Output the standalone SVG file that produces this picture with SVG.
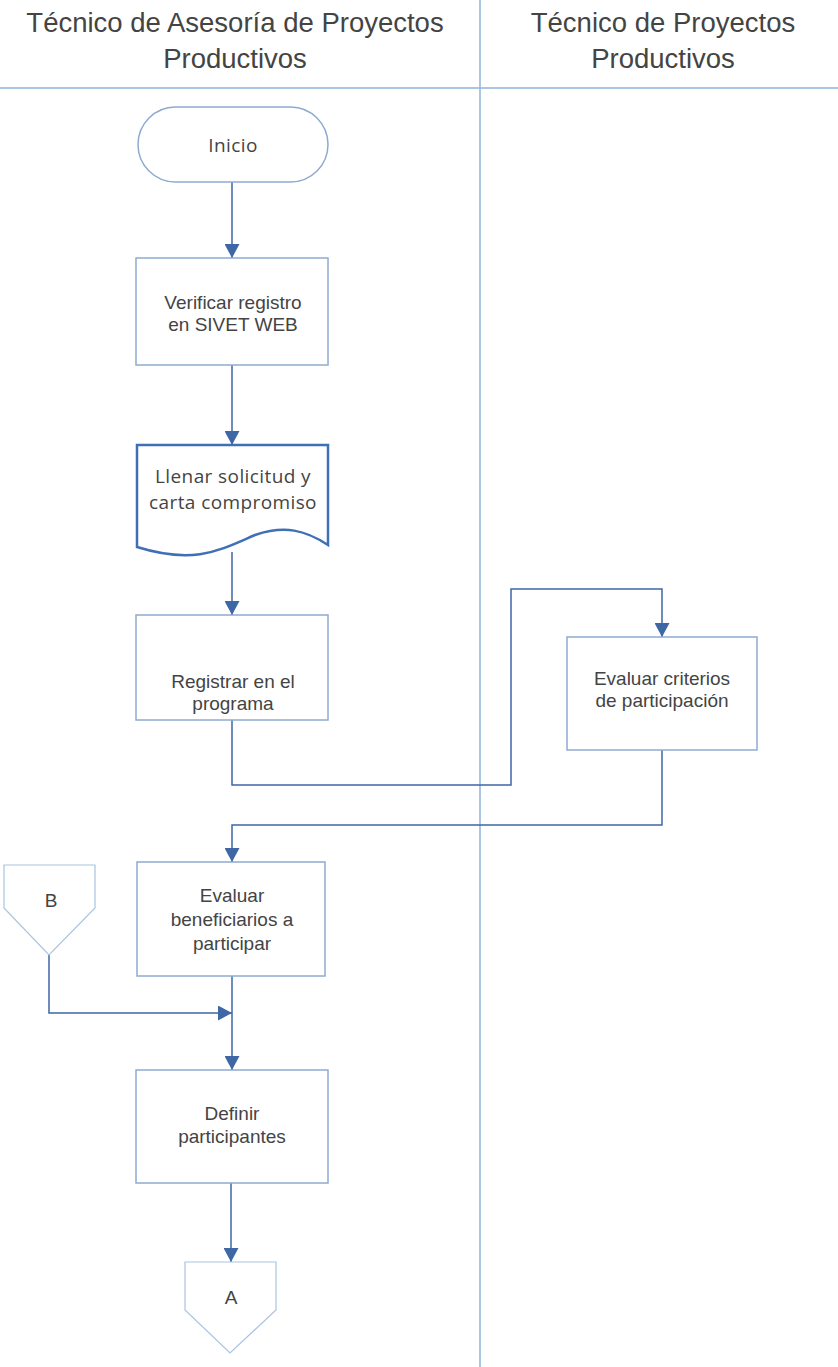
<svg xmlns="http://www.w3.org/2000/svg" width="838" height="1367" viewBox="0 0 838 1367">
  <style>
    .lane { stroke: #8fb3d8; stroke-width: 1.5; fill: none; }
    .hdr { font-family: "Liberation Sans", Arial, sans-serif; font-size: 27.5px; fill: #444; text-anchor: middle; }
    .box { fill: #fff; stroke: #8eabcf; stroke-width: 1.5; }
    .doc { fill: #fff; stroke: #3f6fb5; stroke-width: 2.5; }
    .off { fill: #fff; stroke: #a9c3e0; stroke-width: 1.2; }
    .lbl { font-family: "Liberation Sans", Arial, sans-serif; font-size: 19px; fill: #444; text-anchor: middle; }
    .lbl2 { font-family: "Open Sans", "Noto Sans", sans-serif; font-size: 19px; letter-spacing: 0.4px; fill: #444; text-anchor: middle; }
    .conn { stroke: #3e67a6; stroke-width: 1.5; fill: none; marker-end: url(#arr); }
  </style>
  <defs>
    <marker id="arr" viewBox="0 0 14 15" refX="14" refY="7.5" markerWidth="14" markerHeight="15" markerUnits="userSpaceOnUse" orient="auto">
      <path d="M0,0 L14,7.5 L0,15 Z" fill="#3e67a6"/>
    </marker>
  </defs>
  <rect width="838" height="1367" fill="#fff"/>

  <!-- swimlane frame -->
  <g id="lanes">
    <line class="lane" x1="480" y1="0" x2="480" y2="1367"/>
    <line class="lane" x1="0" y1="88" x2="838" y2="88" stroke-width="2"/>
    <text class="hdr" x="235" y="32">Técnico de Asesoría de Proyectos</text>
    <text class="hdr" x="235" y="68">Productivos</text>
    <text class="hdr" x="663" y="32">Técnico de Proyectos</text>
    <text class="hdr" x="663" y="68">Productivos</text>
  </g>

  <!-- connectors -->
  <g id="connectors">
    <path class="conn" d="M232,182 V258"/>
    <path class="conn" d="M232,365 V445"/>
    <path class="conn" d="M232,552 V615"/>
    <path class="conn" d="M232,720 V785 H511 V589 H662 V637"/>
    <path class="conn" d="M662,750 V825 H232 V862"/>
    <path class="conn" d="M232,976 V1070"/>
    <path class="conn" d="M49,955 V1013 H232"/>
    <path class="conn" d="M231,1183 V1262"/>
  </g>

  <g id="inicio">
    <rect class="box" x="138" y="107" width="190" height="75" rx="37.5"/>
    <text class="lbl2" x="233" y="152">Inicio</text>
  </g>

  <g id="verificar">
    <rect class="box" x="136" y="258" width="192" height="107"/>
    <text class="lbl" x="233" y="309">Verificar registro</text>
    <text class="lbl" x="233" y="331">en SIVET WEB</text>
  </g>

  <g id="llenar">
    <path class="doc" d="M137,445 H328 V545 C305,530 285,525 255,535 C220,550 195,565 137,547 Z"/>
    <text class="lbl2" x="233" y="483">Llenar solicitud y</text>
    <text class="lbl2" x="233" y="509">carta compromiso</text>
  </g>

  <g id="registrar">
    <rect class="box" x="136" y="615" width="192" height="105"/>
    <text class="lbl" x="233" y="688">Registrar en el</text>
    <text class="lbl" x="233" y="710">programa</text>
  </g>

  <g id="criterios">
    <rect class="box" x="567" y="637" width="190" height="113"/>
    <text class="lbl" x="662" y="685">Evaluar criterios</text>
    <text class="lbl" x="662" y="707">de participación</text>
  </g>

  <g id="beneficiarios">
    <rect class="box" x="137" y="862" width="188" height="114"/>
    <text class="lbl" x="232" y="902">Evaluar</text>
    <text class="lbl" x="232" y="926">beneficiarios a</text>
    <text class="lbl" x="232" y="950">participar</text>
  </g>

  <g id="conector-b">
    <path class="off" d="M4,865 H95 V908 L49,955 L4,908 Z"/>
    <text class="lbl" x="51" y="907">B</text>
  </g>

  <g id="definir">
    <rect class="box" x="136" y="1070" width="192" height="113"/>
    <text class="lbl" x="232" y="1120">Definir</text>
    <text class="lbl" x="232" y="1143">participantes</text>
  </g>

  <g id="conector-a">
    <path class="off" d="M185,1262 H276 V1310 L230,1353 L185,1310 Z"/>
    <text class="lbl" x="231" y="1304">A</text>
  </g>
</svg>
